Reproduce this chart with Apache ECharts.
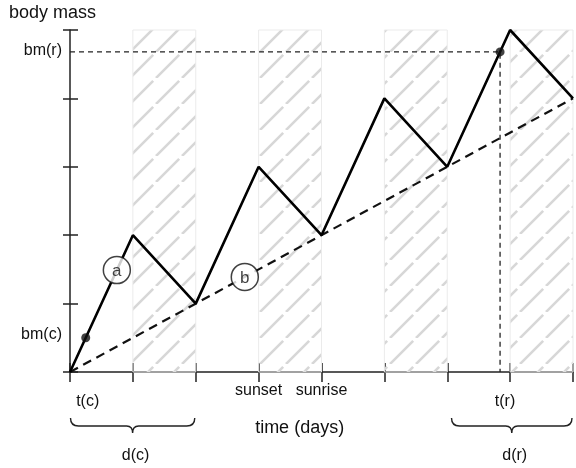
<!DOCTYPE html>
<html>
<head>
<meta charset="utf-8">
<script src="https://cdn.jsdelivr.net/npm/echarts@6/dist/echarts.min.js"></script>
<style>html,body{margin:0;padding:0;background:#fff}#c{width:576px;height:468px}</style>
</head>
<body>
<div id="c"></div>
<script>
// ---- data ----
const xTickLabels = ['', '', '', 'sunset', 'sunrise', '', '', '', ''];
const massX = [0, 1, 2, 3, 4, 5, 6, 7, 8];
const massY = [0, 2, 1, 3, 2, 4, 3, 5, 4];
const trendX = [0, 8];
const trendY = [0, 4];
const nightStart = [1, 3, 5, 7];
const nightEnd = [2, 4, 6, 8];
const dotX = [0.25, 6.84];
const dotY = [0.5, 4.68];
const circleNames = ['a', 'b'];
const circleX = [0.745, 2.78];
const circleY = [1.49, 1.39];
const braceStart = [0, 6.06];
const braceEnd = [2, 8];
const braceNames = ['d(c)', 'd(r)'];

const FONT = 'Liberation Sans, Arial, sans-serif';

// hatch pattern
function makeHatch() {
  const w = 26;
  const cv = document.createElement('canvas');
  cv.width = w; cv.height = w;
  const ctx = cv.getContext('2d');
  ctx.strokeStyle = '#d7d7d7';
  ctx.lineWidth = 2.6;
  const L = w * Math.SQRT2;
  const gap = 4;
  ctx.setLineDash([L - gap, gap]);
  for (const off of [-w, 0, w]) {
    ctx.beginPath();
    ctx.moveTo(off, w);
    ctx.lineTo(off + w, 0);
    ctx.stroke();
  }
  return cv;
}

const chart = echarts.init(document.getElementById('c'), null, {renderer: 'canvas'});
const axisColor = '#222';

const option = {
  animation: false,
  textStyle: {fontFamily: FONT},
  title: {
    text: 'body mass', left: 9, top: 4, padding: 0,
    textStyle: {fontSize: 18, fontWeight: 'normal', color: '#111', fontFamily: FONT}
  },
  grid: {left: 70, right: 2, top: 30, bottom: 96, containLabel: false},
  xAxis: [{
    type: 'value', min: 0, max: 8, interval: 1,
    axisLine: {show: true, lineStyle: {color: axisColor, width: 1.5}},
    axisTick: {show: true, length: 10, lineStyle: {color: axisColor, width: 1.5}},
    axisLabel: {
      show: true, margin: 11, fontSize: 16, color: '#111', fontFamily: FONT,
      formatter: v => xTickLabels[Math.round(v)] || '',
      showMinLabel: true, showMaxLabel: true
    },
    splitLine: {show: false}
  }, {
    type: 'value', min: 0, max: 8, interval: 1, position: 'bottom',
    axisLine: {show: false},
    axisTick: {show: true, inside: true, length: 9, lineStyle: {color: axisColor, width: 1.5}},
    axisLabel: {show: false}, splitLine: {show: false}
  }],
  yAxis: [{
    type: 'value', min: 0, max: 5, interval: 1,
    axisLine: {show: true, lineStyle: {color: axisColor, width: 1.5}},
    axisTick: {show: true, length: 7, lineStyle: {color: axisColor, width: 1.5}},
    axisLabel: {show: false}, splitLine: {show: false}
  }, {
    type: 'value', min: 0, max: 5, interval: 1, position: 'left',
    axisLine: {show: false},
    axisTick: {show: true, inside: true, length: 8, lineStyle: {color: axisColor, width: 1.5}},
    axisLabel: {show: false}, splitLine: {show: false}
  }],
  series: [
    {
      type: 'line', data: [], silent: true, z: 1,
      markArea: {
        silent: true,
        itemStyle: {color: {image: makeHatch(), repeat: 'repeat'}, borderColor: '#ebebeb', borderWidth: 1},
        data: nightStart.map((s, i) => [{xAxis: s}, {xAxis: nightEnd[i]}])
      }
    },
    {
      type: 'line', z: 3, symbol: 'none',
      data: trendX.map((x, i) => [x, trendY[i]]),
      lineStyle: {color: '#111', width: 2.2, type: [9, 6]}
    },
    {
      type: 'line', z: 3, symbol: 'none',
      data: [[0, dotY[1]], [dotX[1], dotY[1]], [dotX[1], 0]],
      lineStyle: {color: '#222', width: 1.3, type: [5, 4]}
    },
    {
      type: 'line', z: 4, symbol: 'none',
      data: massX.map((x, i) => [x, massY[i]]),
      lineStyle: {color: '#000', width: 2.6}
    },
    {
      type: 'scatter', z: 5, symbol: 'circle', symbolSize: 9,
      itemStyle: {color: '#111'},
      data: dotX.map((x, i) => [x, dotY[i]])
    },
    {
      type: 'scatter', z: 6, symbol: 'circle', symbolSize: 27,
      itemStyle: {color: '#fff', borderColor: '#111', borderWidth: 1.5},
      label: {show: true, position: 'inside', formatter: p => p.name, fontSize: 17, color: '#111', fontFamily: FONT, verticalAlign: 'middle', offset: [0, 1]},
      data: circleX.map((x, i) => ({name: circleNames[i], value: [x, circleY[i]]}))
    },
    {
      type: 'custom', z: 3, clip: false, silent: true,
      data: braceStart.map((s, i) => [s, braceEnd[i]]),
      renderItem: (params, api) => {
        const a = api.coord([api.value(0), 0]);
        const b = api.coord([api.value(1), 0]);
        const y = a[1];
        const x0 = a[0] + 0.5, x1 = b[0] - 1, xm = (x0 + x1) / 2;
        const yTop = y + 46, yMid = y + 54, yTip = y + 61;
        const d = `M${x0},${yTop} Q${x0},${yMid} ${x0 + 8},${yMid} L${xm - 6},${yMid} Q${xm},${yMid} ${xm},${yTip} Q${xm},${yMid} ${xm + 6},${yMid} L${x1 - 8},${yMid} Q${x1},${yMid} ${x1},${yTop}`;
        return {
          type: 'group',
          children: [{
            type: 'path', shape: {pathData: d},
            style: {fill: null, stroke: '#222', lineWidth: 1.4}
          }, {
            type: 'text',
            style: {
              text: braceNames[params.dataIndex], x: xm + 3, y: y + 84,
              align: 'center', verticalAlign: 'middle', fontSize: 16, fill: '#111', fontFamily: FONT
            }
          }]
        };
      }
    }
  ]
};
chart.setOption(option);

function px(v) { return chart.convertToPixel({xAxisIndex: 0, yAxisIndex: 0}, v); }
const pc = px([dotX[0], dotY[0]]);
const pr = px([dotX[1], dotY[1]]);
const o = px([0, 0]);
const mid = px([3.7, 0]);
const txt = (t, x, y, align, size) => ({
  type: 'text', z: 10,
  style: {text: t, x: x, y: y, align: align || 'center', verticalAlign: 'middle', fontSize: size || 16, fill: '#111', fontFamily: FONT}
});
chart.setOption({
  graphic: [
    txt('bm(r)', o[0] - 8, pr[1] - 1, 'right'),
    txt('bm(c)', o[0] - 8, pc[1] - 3, 'right'),
    txt('t(c)', pc[0] + 2, o[1] + 30),
    txt('t(r)', pr[0] + 5, o[1] + 30),
    txt('time (days)', mid[0] - 3, o[1] + 56, 'center', 18)
  ]
});
</script>
</body>
</html>
